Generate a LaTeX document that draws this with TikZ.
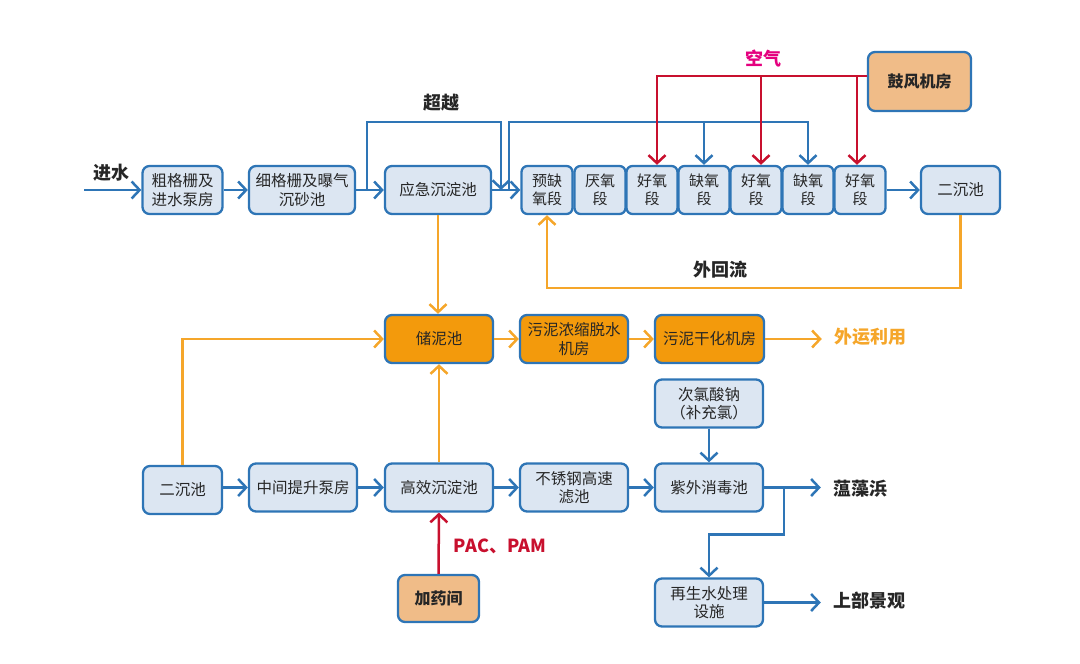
\documentclass[tikz,border=0pt]{standalone}
\usepackage{fontspec}
\setmainfont{Noto Sans CJK SC}
\usepackage{tikz}
\usetikzlibrary{positioning,arrows.meta}
\definecolor{flowc}{HTML}{2E75B6}
\definecolor{boxc}{HTML}{DCE6F2}
\definecolor{sludgec}{HTML}{F39A0C}
\definecolor{slinec}{HTML}{F5A62A}
\definecolor{tanc}{HTML}{F0BC88}
\definecolor{airc}{HTML}{C8102E}
\definecolor{airtc}{HTML}{E4007F}
\definecolor{textc}{HTML}{262626}
\tikzset{
  box/.style={draw=flowc, fill=boxc, rounded corners=7pt, line width=2.3pt, align=center,
              inner sep=1pt, text=textc, font=\fontsize{15.5}{18.5}\selectfont,
              minimum height=48pt, minimum width=108pt},
  stage/.style={box, minimum width=51pt, rounded corners=6pt, font=\fontsize{15}{18.5}\selectfont},
  obox/.style={box, fill=sludgec},
  tbox/.style={box, fill=tanc, font=\fontsize{16}{18}\selectfont\bfseries},
  arr/.style={-{Straight Barb[length=8pt,width=17pt,line width=2.5pt]}, line width=2.5pt},
  barr/.style={arr, draw=flowc},
  oarr/.style={arr, draw=slinec},
  rarr/.style={arr, draw=airc},
  lbl/.style={font=\fontsize{18}{20}\selectfont\bfseries, inner sep=0pt, text=textc},
}
\begin{document}
\begin{tikzpicture}[x=1pt, y=-1pt]
  \useasboundingbox (0,0) rectangle (1080,664);

  \node[box, minimum width=80pt] (coarse) at (182.5,190) {粗格栅及\\进水泵房};
  \node[box, minimum width=106pt] (fine) at (302,190) {细格栅及曝气\\沉砂池};
  \node[box, minimum width=106pt] (emerg) at (438,190) {应急沉淀池};
  \foreach \n/\x/\t in {1/547/{预缺\\氧段}, 2/600/{厌氧\\段}, 3/652/{好氧\\段}, 4/704/{缺氧\\段},
                        5/756/{好氧\\段}, 6/808/{缺氧\\段}, 7/860/{好氧\\段}}
    \node[stage] (s\n) at (\x,190) {\t};
  \node[box, minimum width=79pt] (sec1) at (960.5,190) {二沉池};
  \node[tbox, minimum width=103pt, minimum height=59pt] (blower) at (919.5,81.5) {鼓风机房};

  \node[obox] (sludge) at (439,339) {储泥池};
  \node[obox] (dewater) at (574,339) {污泥浓缩脱水\\机房};
  \node[obox, minimum width=109pt] (dry) at (709.5,339) {污泥干化机房};
  \node[box] (chlor) at (709,403.5) {次氯酸钠\\（补充氯）};

  \node[box, minimum width=79pt] (sec2) at (182.5,490) {二沉池};
  \node[box] (lift) at (303,487.5) {中间提升泵房};
  \node[box] (hds) at (439,487.5) {高效沉淀池};
  \node[box] (filter) at (574,487.5) {不锈钢高速\\滤池};
  \node[box] (uv) at (709,487.5) {紫外消毒池};
  \node[box] (reuse) at (709,602.5) {再生水处理\\设施};
  \node[tbox, minimum width=81pt, minimum height=47pt] (dosing) at (438.5,598.5) {加药间};

  \node[lbl] (inlbl) at (111.5,173) {进水};
  \node[lbl] (bylbl) at (441,103) {超越};
  \node[lbl, text=airtc] (airlbl) at (763,59) {空气};
  \node[lbl, text=slinec] (outuse) at (870,337) {外运利用};
  \node[lbl] (river) at (860,489) {蕰藻浜};
  \node[lbl] (scene) at (869,601) {上部景观};
  \node[lbl, text=airc] (chem) at (500,546) {PAC、PAM};

  \coordinate (inlet) at (84,190);
  \coordinate (byA) at (367,190);
  \coordinate (byB) at (501,190);
  \coordinate (mix) at (509,190);
  \coordinate (mixTop) at (509,122);
  \coordinate (air) at ([yshift=5.5pt]blower.west);
  \coordinate (split) at ([xshift=20pt]uv.east);

  \draw[barr] (inlet) -- (coarse);
  \draw[barr] (coarse) -- (fine);
  \draw[barr] (fine) -- (emerg);
  \draw[barr] (emerg) -- (s1);
  \draw[barr] (byA) -- ++(0,-68) -| (byB);
  \draw[barr] (mix) -- (mixTop) -| (s6.north);
  \draw[barr] (mixTop -| s4.north) -- (s4.north);
  \draw[rarr] (air) -| ([xshift=5pt]s3.north);
  \draw[rarr] ([xshift=5pt]s5.north |- air) -- ([xshift=5pt]s5.north);
  \draw[rarr] ([xshift=-3pt]s7.north |- air) -- ([xshift=-3pt]s7.north);
  \draw[barr] (s7) -- (sec1);
  \draw[oarr] (sec1.south) -- ++(0,73) -| node[lbl, pos=0.29, above=9pt]{外回流} (s1.south);

  \draw[oarr] (emerg.south) -- (emerg.south |- sludge.north);
  \draw[oarr] (sludge) -- (dewater);
  \draw[oarr] (dewater) -- (dry);
  \draw[oarr, shorten >=12pt] (dry) -- (dry -| outuse.west);
  \draw[oarr] (sec2.north) |- (sludge.west);
  \draw[oarr] (hds) -- (sludge);

  \draw[barr] (sec2.east |- lift.west) -- (lift);
  \draw[barr] (lift) -- (hds);
  \draw[barr] (hds) -- (filter);
  \draw[barr] (filter) -- (uv);
  \draw[barr] (chlor) -- (uv);
  \draw[barr, shorten >=12pt] (uv) -- (uv -| river.west);
  \draw[barr] (split) -- ++(0,47) -| (reuse.north);
  \draw[barr, shorten >=12pt] (reuse) -- (reuse -| scene.west);
  \draw[rarr] (dosing) -- (hds);
\end{tikzpicture}
\end{document}
